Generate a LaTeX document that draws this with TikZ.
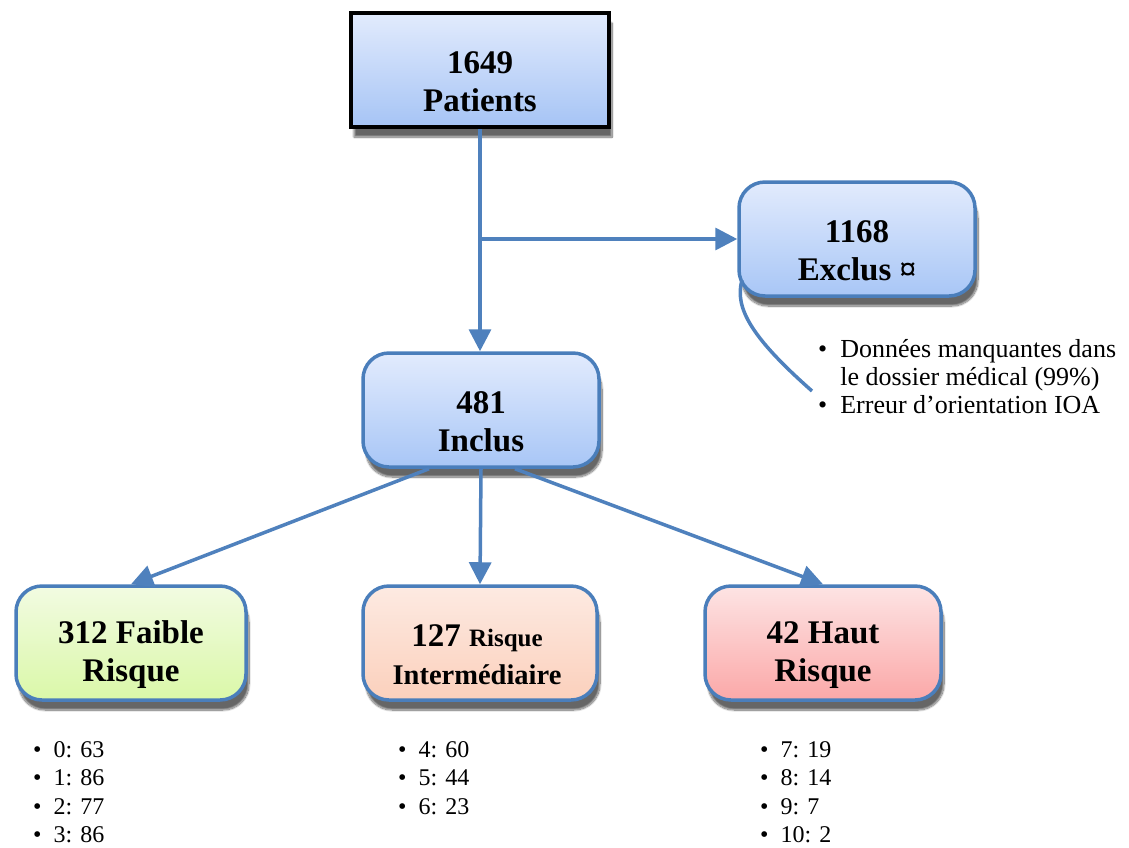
\documentclass[tikz,border=0pt]{standalone}
\usepackage{fontspec}
\setmainfont{Liberation Serif}
\usetikzlibrary{arrows.meta,shadows.blur}
\definecolor{lineblue}{HTML}{4F81BD}
\definecolor{boxblue}{HTML}{4A7EBB}
\tikzset{
  basebox/.style={minimum width=#1, minimum height=114pt, inner sep=0pt,
     blur shadow={shadow xshift=3pt, shadow yshift=-10pt, shadow blur steps=14, shadow opacity=60}},
  roundbox/.style={basebox=#1, draw=boxblue, line width=3.5pt, rounded corners=26pt},
  conn/.style={draw=lineblue, line width=3.5pt},
  arr/.style={conn, -{Triangle[length=22pt,width=22pt]}},
  big/.style={font=\bfseries\fontsize{33}{38}\selectfont, align=center, inner sep=0pt},
  listtxt/.style={font=\fontsize{24}{28.5}\selectfont, align=left, anchor=north west, inner sep=0pt}
}
\begin{document}
\begin{tikzpicture}[x=1pt,y=-1pt]
\useasboundingbox (0,0) rectangle (1129,847);
\node[basebox=258pt, draw=black, line width=4pt,
      top color={rgb,255:red,226;green,235;blue,253}, bottom color={rgb,255:red,166;green,196;blue,245}]
  (pat) at (480,70) {};
\node[big] (patt) at (480,82) {1649\\Patients};
\node[roundbox=236pt, top color={rgb,255:red,226;green,235;blue,253}, bottom color={rgb,255:red,168;green,198;blue,246}]
  (exc) at (857,239) {};
\node[big] (exct) at (857,251) {1168\\Exclus \char"00A4};
\node[roundbox=236pt, top color={rgb,255:red,226;green,235;blue,253}, bottom color={rgb,255:red,168;green,198;blue,246}]
  (inc) at (481,410) {};
\node[big] (inct) at (481,422) {481\\Inclus};
\node[roundbox=230pt, top color={rgb,255:red,242;green,251;blue,226}, bottom color={rgb,255:red,218;green,248;blue,168}]
  (fai) at (131,643) {};
\node[big] (fait) at (131,655) {312 Faible\\Risque};
\node[roundbox=234pt, top color={rgb,255:red,253;green,234;blue,226}, bottom color={rgb,255:red,251;green,208;blue,188}]
  (int) at (480,643) {};
\node[big] (intt) at (477,655) {127 {\fontsize{25}{30}\selectfont Risque}\\{\fontsize{28.5}{30}\selectfont Intermédiaire}};
\node[roundbox=236pt, top color={rgb,255:red,253;green,228;blue,228}, bottom color={rgb,255:red,251;green,168;blue,168}]
  (hau) at (823,643) {};
\node[big] (haut) at (823,655) {42 Haut\\Risque};

% connectors
\coordinate (br) at (pat.south |- exc.west);
\draw[arr] (pat.south) -- (pat.south |- inc.north);
\draw[arr] (br) -- (exc.west);
\draw[arr] (inc.south) ++(-52pt,0) coordinate (s1) (s1) -- (fai.north);
\draw[arr] (inc.south) -- (int.north);
\draw[arr] (inc.south) ++(34pt,0) coordinate (s3) (s3) -- (hau.north);
\coordinate (cs) at (742,280);
\coordinate (cend) at (812,391);
\draw[conn] (cs) .. controls (734,308) and (752,338) .. (cend);

% excluded list
\node[listtxt, font=\fontsize{26}{28}\selectfont] (exl) at (818,339) {\textbullet\ \ Données manquantes dans\\\hphantom{\textbullet\ \ }le dossier médical (99\%)\\\textbullet\ \ Erreur d’orientation IOA};

% lists
\node[listtxt] (l1) at (33,741) {\textbullet\ \ 0: 63\\\textbullet\ \ 1: 86\\\textbullet\ \ 2: 77\\\textbullet\ \ 3: 86};
\node[listtxt] (l2) at (398,741) {\textbullet\ \ 4: 60\\\textbullet\ \ 5: 44\\\textbullet\ \ 6: 23};
\node[listtxt] (l3) at (760,741) {\textbullet\ \ 7: 19\\\textbullet\ \ 8: 14\\\textbullet\ \ 9: 7\\\textbullet\ \ 10: 2};
\end{tikzpicture}
\end{document}
